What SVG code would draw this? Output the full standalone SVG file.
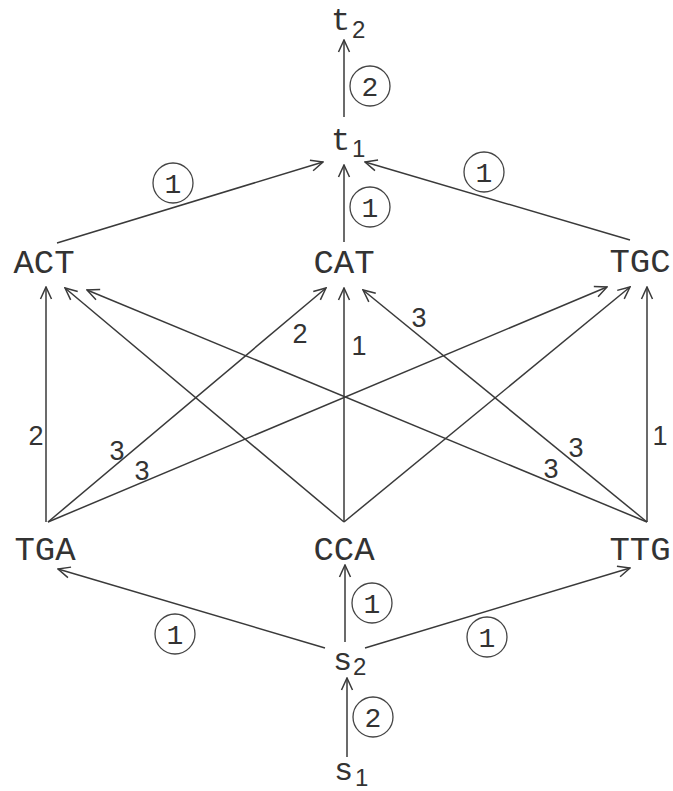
<svg xmlns="http://www.w3.org/2000/svg" width="673" height="791" viewBox="0 0 673 791">
<defs>
<style>
.node{font-family:"Liberation Mono",monospace;font-size:34px;fill:#333;text-anchor:middle}
.tt{font-family:"Liberation Mono",monospace;font-size:32px;fill:#333}
.sub{font-family:"Liberation Sans",sans-serif;font-size:24px;fill:#333}
.w{font-family:"Liberation Sans",sans-serif;font-size:27px;fill:#333;text-anchor:middle}
.cl{font-family:"Liberation Mono",monospace;font-size:28px;fill:#333;text-anchor:middle}
.ring{fill:none;stroke:#444;stroke-width:1.3}
.e{stroke:#3a3a3a;stroke-width:1.5;fill:none;marker-end:url(#ah)}
</style>
<marker id="ah" viewBox="-14 -7 15 14" refX="0" refY="0" markerWidth="15" markerHeight="14" markerUnits="userSpaceOnUse" orient="auto">
<path d="M-12,-5.5 L0,0 L-12,5.5" fill="none" stroke="#3a3a3a" stroke-width="1.5"/>
</marker>
</defs>
<rect width="673" height="791" fill="#fff"/>
<g id="connectors">
<line class="e" x1="344" y1="117" x2="344" y2="40"/>
<line class="e" x1="57" y1="243" x2="323" y2="162"/>
<line class="e" x1="344" y1="242" x2="344" y2="165"/>
<line class="e" x1="630" y1="240" x2="365" y2="162"/>
<line class="e" x1="46" y1="522" x2="46" y2="287"/>
<line class="e" x1="48" y1="522" x2="326" y2="288"/>
<line class="e" x1="48" y1="522" x2="607" y2="287"/>
<line class="e" x1="344" y1="522" x2="65" y2="288"/>
<line class="e" x1="344" y1="522" x2="344" y2="288"/>
<line class="e" x1="344" y1="522" x2="630" y2="287"/>
<line class="e" x1="647" y1="522" x2="87" y2="290"/>
<line class="e" x1="647" y1="522" x2="363" y2="290"/>
<line class="e" x1="647" y1="522" x2="647" y2="287"/>
<line class="e" x1="325" y1="648" x2="58" y2="569"/>
<line class="e" x1="345" y1="642" x2="345" y2="565"/>
<line class="e" x1="365" y1="648" x2="630" y2="568"/>
<line class="e" x1="347" y1="757" x2="347" y2="678"/>
<text class="w" x="36" y="445">2</text>
<text class="w" x="117" y="460">3</text>
<text class="w" x="142" y="480">3</text>
<text class="w" x="300" y="343">2</text>
<text class="w" x="359" y="355">1</text>
<text class="w" x="419" y="327">3</text>
<text class="w" x="576" y="457">3</text>
<text class="w" x="551" y="478">3</text>
<text class="w" x="660" y="445">1</text>
<circle class="ring" cx="370" cy="86" r="20"/><text class="cl" x="370" y="96">2</text>
<circle class="ring" cx="173" cy="183" r="20"/><text class="cl" x="173" y="193">1</text>
<circle class="ring" cx="370" cy="207" r="20"/><text class="cl" x="370" y="217">1</text>
<circle class="ring" cx="484" cy="172" r="20"/><text class="cl" x="484" y="182">1</text>
<circle class="ring" cx="175" cy="634" r="20"/><text class="cl" x="175" y="644">1</text>
<circle class="ring" cx="372" cy="603" r="20"/><text class="cl" x="372" y="613">1</text>
<circle class="ring" cx="487" cy="637" r="20"/><text class="cl" x="487" y="647">1</text>
<circle class="ring" cx="373" cy="717" r="20"/><text class="cl" x="373" y="727">2</text>
</g>
<g id="t2"><text class="tt" x="331" y="30">t</text><text class="sub" x="352" y="38">2</text></g>
<g id="t1"><text class="tt" x="331" y="150">t</text><text class="sub" x="352" y="157">1</text></g>
<g id="ACT"><text class="node" x="44" y="273">ACT</text></g>
<g id="CAT"><text class="node" x="344" y="273">CAT</text></g>
<g id="TGC"><text class="node" x="640" y="272">TGC</text></g>
<g id="TGA"><text class="node" x="45" y="560">TGA</text></g>
<g id="CCA"><text class="node" x="344" y="560">CCA</text></g>
<g id="TTG"><text class="node" x="640" y="560">TTG</text></g>
<g id="s2"><text class="tt" x="333" y="670">s</text><text class="sub" x="353" y="675">2</text></g>
<g id="s1"><text class="tt" x="334" y="780">s</text><text class="sub" x="355" y="786">1</text></g>
</svg>
